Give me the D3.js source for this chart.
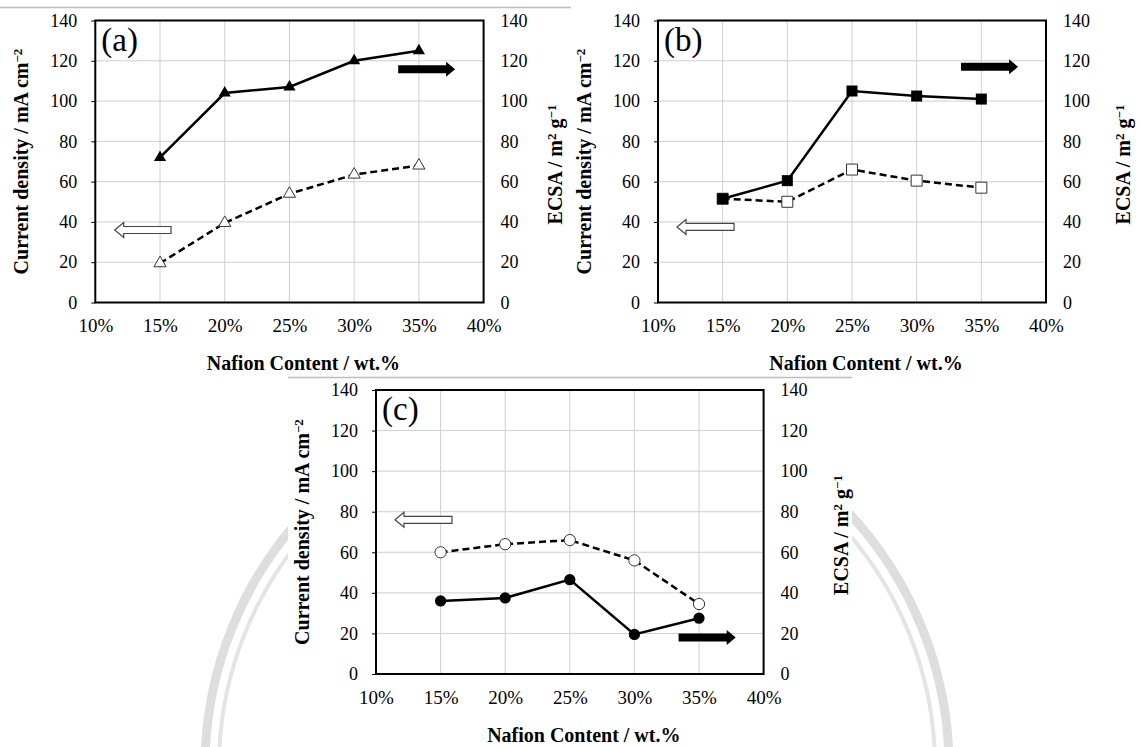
<!DOCTYPE html>
<html><head><meta charset="utf-8">
<script src="https://cdn.jsdelivr.net/npm/d3@7"></script>
<style>
body{margin:0;background:#fff}
svg{display:block}
svg text{font-family:'Liberation Serif',serif !important;fill:#000}
</style>
</head><body>
<svg id="chart" width="1140" height="747"></svg>
<script>
// ---------------- data ----------------
const nafionContent = [15, 20, 25, 30, 35];
const xTicks = [10, 15, 20, 25, 30, 35, 40];
const yTicks = [0, 20, 40, 60, 80, 100, 120, 140];

const currentDensityA = [19.5, 39.5, 54, 63.5, 68];
const ecsaA = [72, 104, 107, 120, 125];
const currentDensityB = [51.5, 50, 66, 60.5, 57];
const ecsaB = [51.5, 60.5, 105, 102.5, 101];
const currentDensityC = [60, 64, 66, 56, 34.5];
const ecsaC = [36, 37.5, 46.5, 19.5, 27.5];

const panelLabels = ["(a)", "(b)", "(c)"];
const markerShapes = ["triangle", "square", "circle"];
const xTitle = "Nafion Content / wt.%";

// axis-indicator arrows: [tail %, tip %, value]
const leftArrows = [[15.85, 11.5, 36], [15.88, 11.47, 37.5], [15.88, 11.47, 76]];
const rightArrows = [[33.4, 37.8, 115.8], [33.43, 37.84, 117], [33.42, 37.84, 18]];

// ---------------- layout ----------------
const panels = [
  {left: 95.3, right: 483.6, top: 20.5, bottom: 302.5, rtOff: 71, cd: currentDensityA, ecsa: ecsaA},
  {left: 658, right: 1046, top: 20.5, bottom: 302.5, rtOff: 77, cd: currentDensityB, ecsa: ecsaB},
  {left: 376, right: 763.6, top: 390, bottom: 674, rtOff: 77, cd: currentDensityC, ecsa: ecsaC}
];
const SERIF = "'Liberation Serif', serif";

const svg = d3.select("#chart");

// faint watermark rings (background seal)
const wm = svg.append("g");
wm.append("circle").attr("cx", 577).attr("cy", 767).attr("r", 372)
  .attr("fill", "none").attr("stroke", "#dedede").attr("stroke-width", 9);
wm.append("circle").attr("cx", 577).attr("cy", 767).attr("r", 358)
  .attr("fill", "none").attr("stroke", "#e4e4e4").attr("stroke-width", 4);

// opaque panel backgrounds
svg.append("rect").attr("x", 0).attr("y", 0).attr("width", 571).attr("height", 376).attr("fill", "#fff");
svg.append("rect").attr("x", 288).attr("y", 377).attr("width", 564).attr("height", 370).attr("fill", "#fff");
svg.append("line").attr("x1", 0).attr("x2", 571).attr("y1", 7.5).attr("y2", 7.5)
  .attr("stroke", "#bdbdbd").attr("stroke-width", 1.5);
svg.append("line").attr("x1", 288).attr("x2", 852).attr("y1", 377.5).attr("y2", 377.5)
  .attr("stroke", "#bdbdbd").attr("stroke-width", 1.5);

function arrowPath(x1, x2, y, bh, hh, hl) {
  const s = x2 > x1 ? 1 : -1;
  const xb = x2 - s * hl;
  return `M${x1},${y - bh}L${xb},${y - bh}L${xb},${y - hh}L${x2},${y}L${xb},${y + hh}L${xb},${y + bh}L${x1},${y + bh}Z`;
}

panels.forEach((p, i) => {
  const g = svg.append("g");
  const x = d3.scaleLinear().domain([10, 40]).range([p.left, p.right]);
  const yL = d3.scaleLinear().domain([0, 140]).range([p.bottom, p.top]);
  const yR = d3.scaleLinear().domain([0, 140]).range([p.bottom, p.top]);

  // gridlines
  g.append("g").selectAll("line").data(yTicks.filter(v => v > 0 && v < 140)).join("line")
    .attr("x1", p.left).attr("x2", p.right).attr("y1", d => yL(d)).attr("y2", d => yL(d))
    .attr("stroke", "#cfcfcf").attr("stroke-width", 1);
  g.append("g").selectAll("line").data(xTicks.filter(v => v > 10 && v < 40)).join("line")
    .attr("y1", p.top).attr("y2", p.bottom).attr("x1", d => x(d)).attr("x2", d => x(d))
    .attr("stroke", "#cfcfcf").attr("stroke-width", 1);

  // axes
  const axL = g.append("g").attr("transform", `translate(${p.left},0)`)
    .call(d3.axisLeft(yL).tickValues(yTicks).tickSize(4).tickPadding(14));
  const axR = g.append("g").attr("transform", `translate(${p.right},0)`)
    .call(d3.axisRight(yR).tickValues(yTicks).tickSize(0).tickPadding(17));
  const axB = g.append("g").attr("transform", `translate(0,${p.bottom})`)
    .call(d3.axisBottom(x).tickValues(xTicks).tickSize(0).tickPadding(16.5).tickFormat(d => d + "%"));
  [axL, axR, axB].forEach(a => {
    a.attr("font-family", null).attr("font-size", null);
    a.select(".domain").remove();
    a.selectAll("text").style("font-family", SERIF).style("font-size", "18px").attr("fill", "#000");
    a.selectAll("line").attr("stroke", "#000");
  });
  axB.selectAll("text").style("font-size", "19px");

  // frame
  g.append("rect").attr("x", p.left).attr("y", p.top)
    .attr("width", p.right - p.left).attr("height", p.bottom - p.top)
    .attr("fill", "none").attr("stroke", "#000").attr("stroke-width", 2);

  // panel label
  g.append("text").attr("x", p.left + 6).attr("y", p.top + 30)
    .style("font-family", SERIF).style("font-size", "33px").text(panelLabels[i]);

  // axis titles
  const midY = (p.top + p.bottom) / 2;
  const lt = g.append("text")
    .attr("transform", `translate(${p.left - 74},${midY}) rotate(-90)`)
    .attr("text-anchor", "middle").attr("dy", "0.35em")
    .style("font-family", SERIF).style("font-size", "20px").style("font-weight", "bold");
  lt.append("tspan").text("Current density / mA cm");
  lt.append("tspan").attr("dy", "-0.45em").style("font-size", "13px").text("\u22122");

  const rt = g.append("text")
    .attr("transform", `translate(${p.right + p.rtOff},${midY + 3}) rotate(-90)`)
    .attr("text-anchor", "middle").attr("dy", "0.35em")
    .style("font-family", SERIF).style("font-size", "20px").style("font-weight", "bold");
  rt.append("tspan").text("ECSA / m");
  rt.append("tspan").attr("dy", "-0.45em").style("font-size", "13px").text("2");
  rt.append("tspan").attr("dy", "0.3em").text(" g");
  rt.append("tspan").attr("dy", "-0.45em").style("font-size", "13px").text("\u22121");

  g.append("text").attr("x", (p.left + p.right) / 2 + 14).attr("y", p.bottom + 67.5)
    .attr("text-anchor", "middle")
    .style("font-family", SERIF).style("font-size", "20px").style("font-weight", "bold")
    .text(xTitle);

  // arrows
  const la = leftArrows[i];
  g.append("path").attr("d", arrowPath(x(la[0]), x(la[1]), yL(la[2]), 3.5, 7.5, 9))
    .attr("fill", "#fff").attr("stroke", "#444").attr("stroke-width", 1.2);
  const ra = rightArrows[i];
  g.append("path").attr("d", arrowPath(x(ra[0]), x(ra[1]), yR(ra[2]), 4, 7.5, 9))
    .attr("fill", "#000");

  // series
  const cdPts = nafionContent.map((c, k) => [c, p.cd[k]]);
  const ecPts = nafionContent.map((c, k) => [c, p.ecsa[k]]);
  const lineL = d3.line().x(d => x(d[0])).y(d => yL(d[1]));
  const lineR = d3.line().x(d => x(d[0])).y(d => yR(d[1]));

  const shape = markerShapes[i];
  const symType = shape === "triangle" ? d3.symbolTriangle : shape === "square" ? d3.symbolSquare : d3.symbolCircle;
  const symSize = shape === "triangle" ? 64 : shape === "square" ? 121 : 100;
  const sym = d3.symbol().type(symType).size(symSize);

  g.append("path").attr("d", lineL(cdPts)).attr("fill", "none")
    .attr("stroke", "#000").attr("stroke-width", 2.5).attr("stroke-dasharray", "7,4");
  g.append("g").selectAll("path").data(cdPts).join("path")
    .attr("transform", d => `translate(${x(d[0])},${yL(d[1])})`)
    .attr("d", sym).attr("fill", "#fff").attr("stroke", "#333").attr("stroke-width", 1);

  g.append("path").attr("d", lineR(ecPts)).attr("fill", "none")
    .attr("stroke", "#000").attr("stroke-width", 2.5);
  g.append("g").selectAll("path").data(ecPts).join("path")
    .attr("transform", d => `translate(${x(d[0])},${yR(d[1])})`)
    .attr("d", sym).attr("fill", "#000");
});
</script>
</body></html>
